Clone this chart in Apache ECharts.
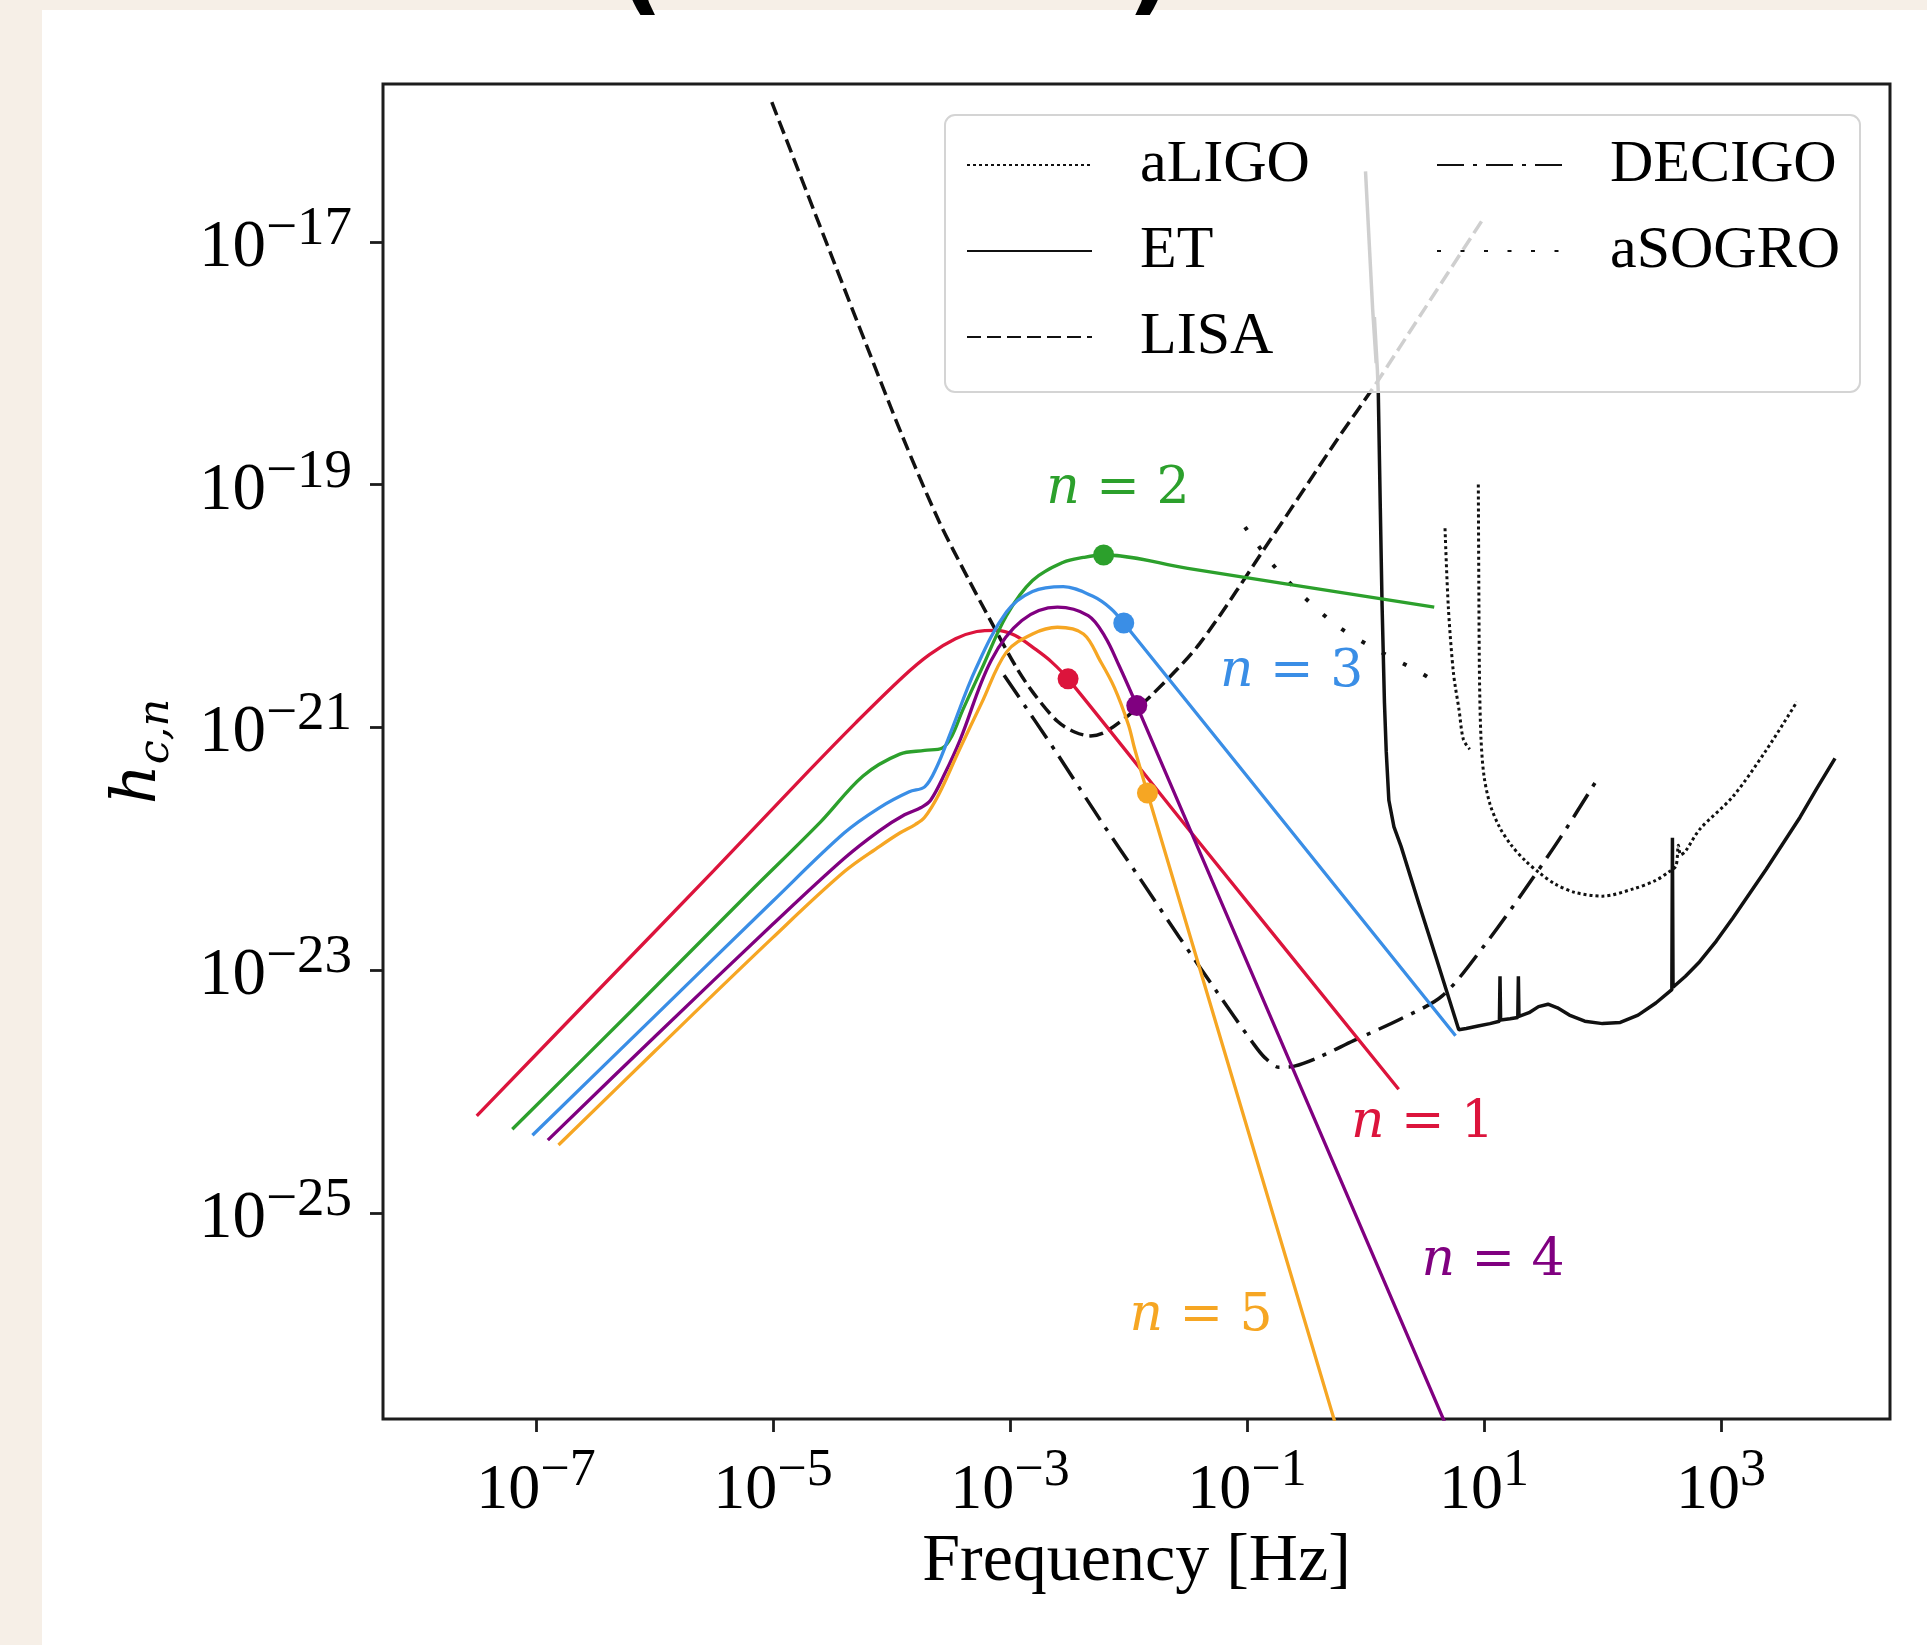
<!DOCTYPE html>
<html>
<head>
<meta charset="utf-8">
<script src="https://cdn.jsdelivr.net/npm/echarts@6/dist/echarts.min.js"></script>
<style>
  html, body { margin: 0; padding: 0; background: #f6efe7; width: 1927px; height: 1645px; overflow: hidden; }
  #panel { position: absolute; left: 42px; top: 10px; right: 0; bottom: 0; background: #ffffff; }
  #chart { position: absolute; left: 0; top: 0; width: 1927px; height: 1645px; }
</style>
</head>
<body>
<div id="panel"></div>
<div id="chart"></div>
<script>
// All values are decade exponents: log10(frequency / Hz) and log10(h_c).

// Tick positions (exponents)
const xTickExps = [-7, -5, -3, -1, 1, 3];
const yTickExps = [-25, -23, -21, -19, -17];

// Signal curves, harmonics n = 1..5
const n1LogF = [-7.50, -6.50, -5.50, -4.70, -4.30, -3.90, -3.68, -3.46, -3.28, -3.12, -2.96, -2.78, -2.65, -2.51, -1.50, 0.28];
const n1LogH = [-24.20, -23.19, -22.18, -21.36, -20.96, -20.58, -20.40, -20.27, -20.21, -20.20, -20.24, -20.36, -20.46, -20.60, -21.83, -23.98];

const n2LogF = [-7.20, -6.20, -5.20, -4.60, -4.24, -3.93, -3.72, -3.57, -3.49, -3.40, -3.24, -3.03, -2.81, -2.55, -2.38, -2.21, -1.50, 0.58];
const n2LogH = [-24.31, -23.34, -22.36, -21.78, -21.40, -21.22, -21.19, -21.17, -21.07, -20.86, -20.52, -20.08, -19.79, -19.64, -19.60, -19.58, -19.69, -20.01];

const n3LogF = [-7.03, -6.00, -5.00, -4.40, -4.10, -3.85, -3.72, -3.62, -3.50, -3.29, -3.03, -2.81, -2.55, -2.30, -2.15, -2.04, 0.76];
const n3LogH = [-24.36, -23.38, -22.43, -21.87, -21.66, -21.53, -21.49, -21.33, -21.04, -20.52, -20.05, -19.88, -19.84, -19.92, -20.02, -20.14, -23.54];

const n4LogF = [-6.90, -6.00, -5.00, -4.40, -4.10, -3.89, -3.75, -3.67, -3.55, -3.42, -3.16, -2.90, -2.60, -2.34, -2.20, -2.08, -1.93, 0.68];
const n4LogH = [-24.40, -23.55, -22.62, -22.08, -21.85, -21.72, -21.66, -21.60, -21.38, -21.10, -20.45, -20.12, -20.01, -20.08, -20.25, -20.49, -20.82, -26.75];

const n5LogF = [-6.81, -6.00, -5.00, -4.40, -4.10, -3.93, -3.80, -3.72, -3.60, -3.43, -3.24, -3.03, -2.81, -2.60, -2.38, -2.24, -2.12, -2.00, -1.95, -1.84, -0.25];
const n5LogH = [-24.44, -23.67, -22.73, -22.19, -21.98, -21.87, -21.80, -21.74, -21.55, -21.19, -20.80, -20.38, -20.23, -20.175, -20.23, -20.45, -20.67, -20.98, -21.17, -21.54, -26.75];

// Highlighted points on each harmonic
const dotLogF = [-2.51, -2.21, -2.04, -1.93, -1.84];
const dotLogH = [-20.60, -19.58, -20.14, -20.82, -21.54];

// Detector sensitivity curves
const lisaLogF = [-5.01, -4.50, -4.20, -3.90, -3.60, -3.35, -3.17, -2.95, -2.80, -2.60, -2.45, -2.32, -2.20, -2.00, -1.79, -1.40, -0.80, -0.24, 0.08, 0.50, 0.98];
const lisaLogH = [-15.85, -17.13, -17.88, -18.62, -19.30, -19.78, -20.11, -20.50, -20.72, -20.95, -21.04, -21.07, -21.04, -20.90, -20.72, -20.31, -19.45, -18.63, -18.18, -17.55, -16.83];

const decigoLogF = [-3.05, -2.60, -2.24, -1.90, -1.57, -1.26, -0.95, -0.85, -0.73, -0.60, -0.40, -0.10, 0.30, 0.65, 1.00, 1.32, 1.65, 1.96];
const decigoLogH = [-20.57, -21.22, -21.76, -22.25, -22.73, -23.17, -23.60, -23.72, -23.80, -23.79, -23.72, -23.58, -23.40, -23.21, -22.80, -22.37, -21.90, -21.42];

const etLogF = [0.00, 0.06, 0.09, 0.075, 0.10, 0.108, 0.125, 0.14, 0.16, 0.175, 0.197, 0.24, 0.30, 0.45, 0.60, 0.787, 0.85, 0.95, 1.05, 1.13, 1.135, 1.14, 1.22, 1.285, 1.29, 1.295, 1.38, 1.46, 1.54, 1.62, 1.72, 1.85, 2.00, 2.15, 2.30, 2.45, 2.585, 2.59, 2.595, 2.70, 2.82, 2.96, 3.10, 3.24, 3.38, 3.52, 3.667, 3.81, 3.962];
const etLogH = [-16.42, -17.55, -18.00, -17.62, -18.05, -18.25, -19.20, -20.00, -20.80, -21.20, -21.60, -21.82, -21.98, -22.45, -22.91, -23.49, -23.48, -23.46, -23.44, -23.42, -23.05, -23.41, -23.40, -23.39, -23.05, -23.38, -23.35, -23.30, -23.28, -23.31, -23.37, -23.42, -23.44, -23.43, -23.37, -23.27, -23.16, -21.91, -23.14, -23.05, -22.93, -22.76, -22.57, -22.37, -22.17, -21.96, -21.74, -21.50, -21.255];

const aligoLogF = [0.952, 0.956, 0.962, 0.975, 1.00, 1.05, 1.13, 1.23, 1.35, 1.47, 1.60, 1.77, 2.00, 2.26, 2.45, 2.56, 2.62, 2.64, 2.66, 2.70, 2.82, 3.10, 3.38, 3.64];
const aligoLogH = [-19.00, -19.80, -20.60, -21.10, -21.40, -21.63, -21.82, -21.97, -22.10, -22.20, -22.29, -22.36, -22.39, -22.33, -22.26, -22.19, -22.14, -21.97, -22.05, -22.02, -21.84, -21.57, -21.19, -20.79];

const aligoWallLogF = [0.671, 0.699, 0.742, 0.790, 0.826, 0.880];
const aligoWallLogH = [-19.36, -20.01, -20.55, -20.86, -21.10, -21.18];

const asogroLogF = [-1.017, -0.79, -0.525, -0.23, 0.094, 0.446, 0.617];
const asogroLogH = [-19.35, -19.65, -19.92, -20.17, -20.36, -20.54, -20.64];

// ---------------------------------------------------------------------------

const INK = '#111111';
const harmonics = [
  { n: 1, color: '#dc143c', f: n1LogF, h: n1LogH },
  { n: 2, color: '#2ca02c', f: n2LogF, h: n2LogH },
  { n: 3, color: '#3a8ee6', f: n3LogF, h: n3LogH },
  { n: 4, color: '#800080', f: n4LogF, h: n4LogH },
  { n: 5, color: '#f6a623', f: n5LogF, h: n5LogH }
];

// Where the "n = k" captions sit, in axis (exponent) coordinates
const captionAnchors = {
  1: [0.481, -24.26],
  2: [-2.089, -19.04],
  3: [-0.623, -20.55],
  4: [1.076, -25.40],
  5: [-1.388, -25.85]
};

const pairs = (xs, ys) => xs.map((x, i) => [x, ys[i]]);
const minus = '\u2212';
const expText = v => (v < 0 ? minus : '') + Math.abs(v);

function detector(name, xs, ys, lineStyle, smooth) {
  return {
    type: 'line', name, data: pairs(xs, ys), symbol: 'none', showSymbol: false,
    smooth: smooth, z: 2, silent: true,
    lineStyle: Object.assign({ color: INK, width: 3.5, cap: 'butt' }, lineStyle),
    itemStyle: { color: INK }
  };
}

const series = [
  detector('LISA', lisaLogF, lisaLogH, { type: [14, 6] }, 0.3),
  detector('DECIGO', decigoLogF, decigoLogH, { type: [27, 9, 4, 9] }, 0.3),
  detector('ET', etLogF, etLogH, { type: 'solid' }, false),
  detector('aLIGO', aligoLogF, aligoLogH, { type: [3, 3], width: 3 }, 0.3),
  detector('aLIGO', aligoWallLogF, aligoWallLogH, { type: [3, 3], width: 3 }, 0.3),
  detector('aSOGRO', asogroLogF, asogroLogH, { type: [4, 19.5], width: 4 }, 0.3)
];

harmonics.forEach(hm => {
  series.push({
    type: 'line', name: 'n = ' + hm.n, data: pairs(hm.f, hm.h), symbol: 'none', showSymbol: false,
    smooth: 0.35, z: 3, silent: true,
    lineStyle: { color: hm.color, width: 3.3 }, itemStyle: { color: hm.color }
  });
});

series.push({
  type: 'scatter', name: 'markers', z: 4, silent: true,
  symbol: 'circle', symbolSize: 21,
  data: dotLogF.map((f, i) => ({ value: [f, dotLogH[i]], itemStyle: { color: harmonics[i].color, opacity: 1 } }))
});

const legendCommon = {
  orient: 'vertical', padding: 0, itemGap: 26, itemWidth: 125, itemHeight: 14,
  selectedMode: false, z: 5,
  itemStyle: { opacity: 0 },
  textStyle: { fontFamily: 'Liberation Serif', fontSize: 60, lineHeight: 60, color: '#000', padding: [0, 0, 0, 43] }
};

const xTickRich = {
  b: { fontFamily: 'Liberation Serif', fontSize: 64, lineHeight: 78, verticalAlign: 'bottom', color: '#000' },
  s: { fontFamily: 'Liberation Serif', fontSize: 52, lineHeight: 52, verticalAlign: 'top', color: '#000' }
};
const yTickRich = {
  b: { fontFamily: 'Liberation Serif', fontSize: 67, lineHeight: 80, verticalAlign: 'bottom', color: '#000' },
  s: { fontFamily: 'Liberation Serif', fontSize: 55, lineHeight: 55, verticalAlign: 'top', color: '#000' }
};

const option = {
  animation: false,
  backgroundColor: 'transparent',
  textStyle: { fontFamily: 'Liberation Serif' },
  grid: {
    left: 383, top: 84, width: 1507, height: 1335,
    show: true, borderColor: '#1c1c1c', borderWidth: 3,
    containLabel: false, outerBoundsMode: 'none'
  },
  xAxis: {
    type: 'value', min: -8.291, max: 4.426,
    name: 'Frequency [Hz]', nameLocation: 'middle', nameGap: 91,
    nameTextStyle: { fontFamily: 'Liberation Serif', fontSize: 68, color: '#000' },
    axisLine: { show: false, onZero: false }, splitLine: { show: false },
    axisTick: { show: true, inside: false, length: 13, customValues: xTickExps, lineStyle: { color: '#1c1c1c', width: 2.8 } },
    axisLabel: {
      show: true, margin: 26, customValues: xTickExps,
      formatter: v => '{b|10}{s|' + expText(v) + '}',
      rich: xTickRich
    }
  },
  yAxis: {
    type: 'value', min: -26.697, max: -15.70,
    name: '{h|h}{s|c,n}', nameLocation: 'middle', nameGap: 205, nameRotate: 90,
    nameTextStyle: {
      rich: {
        h: { fontFamily: 'DejaVu Serif', fontStyle: 'italic', fontSize: 62, lineHeight: 70, verticalAlign: 'top', color: '#000' },
        s: { fontFamily: 'DejaVu Serif', fontStyle: 'italic', fontSize: 43, lineHeight: 43, padding: [27, 0, 0, 0], verticalAlign: 'bottom', color: '#000' }
      }
    },
    axisLine: { show: false, onZero: false }, splitLine: { show: false },
    axisTick: { show: true, inside: false, length: 13, customValues: yTickExps, lineStyle: { color: '#1c1c1c', width: 2.8 } },
    axisLabel: {
      show: true, margin: 31, customValues: yTickExps,
      formatter: v => '{b|10}{s|' + expText(v) + '}',
      rich: yTickRich
    }
  },
  legend: [
    Object.assign({ left: 966, top: 135, data: ['aLIGO', 'ET', 'LISA'] }, legendCommon),
    Object.assign({ left: 1436, top: 135, data: ['DECIGO', 'aSOGRO'] }, legendCommon)
  ],
  series: series
};

const chart = echarts.init(document.getElementById('chart'), null, { renderer: 'canvas' });
chart.setOption(option);

// Frame pieces: legend box and the heading brackets along the top edge
const frameGraphics = [
  {
    type: 'rect', z: 4, silent: true,
    shape: { x: 945, y: 115, width: 915, height: 277, r: 10 },
    style: { fill: 'rgba(255,255,255,0.8)', stroke: '#d4d4d4', lineWidth: 2 }
  },
  {
    type: 'text', z: 6, silent: true, x: 640, y: 26,
    style: { text: '(', font: 'bold 100px "DejaVu Sans"', fill: '#000', align: 'center', verticalAlign: 'bottom' }
  },
  {
    type: 'text', z: 6, silent: true, x: 1150, y: 26,
    style: { text: ')', font: 'bold 100px "DejaVu Sans"', fill: '#000', align: 'center', verticalAlign: 'bottom' }
  }
];

const captionGraphics = harmonics.map(hm => {
  const p = chart.convertToPixel({ gridIndex: 0 }, captionAnchors[hm.n]);
  return {
    type: 'text', z: 6, silent: true, x: p[0], y: p[1],
    style: {
      text: '{i|n} = ' + hm.n,
      font: '52px "DejaVu Serif"',
      fill: hm.color, align: 'center', verticalAlign: 'middle',
      rich: { i: { fontFamily: 'DejaVu Serif', fontStyle: 'italic', fontSize: 52, fill: hm.color } }
    }
  };
});

chart.setOption({ graphic: frameGraphics.concat(captionGraphics) });
</script>
</body>
</html>
